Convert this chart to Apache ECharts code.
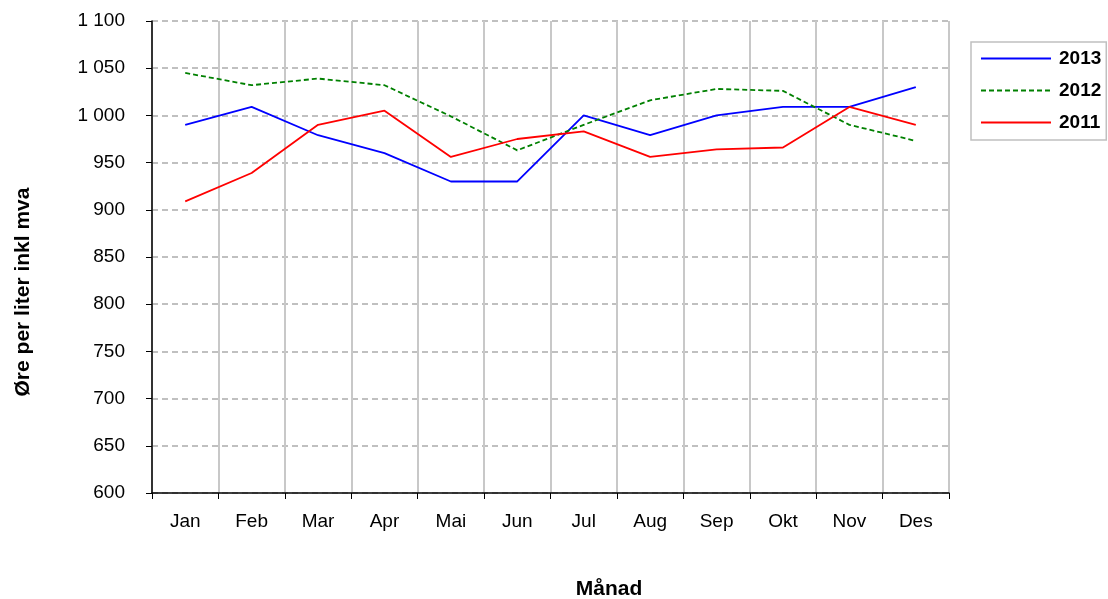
<!DOCTYPE html>
<html><head><meta charset="utf-8">
<script src="https://cdn.jsdelivr.net/npm/echarts@6/dist/echarts.min.js"></script>
<style>html,body{margin:0;padding:0;background:#fff}#c{width:1108px;height:599px}</style>
</head><body><div id="c"></div>
<script>
const months = ['Jan','Feb','Mar','Apr','Mai','Jun','Jul','Aug','Sep','Okt','Nov','Des'];
const s2013 = [990, 1009, 979, 960, 930, 930, 1000, 979, 1000, 1009, 1009, 1030];
const s2012 = [1045, 1032, 1039, 1032, 999, 963, 990, 1016, 1028, 1026, 990, 973];
const s2011 = [909, 939, 990, 1005, 956, 975, 983, 956, 964, 966, 1009, 990];
const yMin = 600, yMax = 1100, yStep = 50;
const xTitle = 'Månad';
const yTitle = 'Øre per liter inkl mva';

const chart = echarts.init(document.getElementById('c'), null, {renderer:'canvas'});
const font = 'Liberation Sans, Arial, sans-serif';
function fmt(v){ const s = String(v); return s.length > 3 ? s.slice(0, s.length-3) + ' ' + s.slice(-3) : s; }
chart.setOption({
  animation:false,
  backgroundColor:'#fff',
  textStyle:{fontFamily:font},
  grid:{left:152, right:159, top:21, bottom:106, containLabel:false},
  legend:{
    orient:'vertical', left:971, top:42,
    itemWidth:70, itemHeight:14, itemGap:13,
    padding:[7,5,8,9],
    borderColor:'#c0c0c0', borderWidth:1.5,
    itemStyle:{opacity:0},
    textStyle:{fontFamily:font, fontSize:19, fontWeight:'bold', color:'#000', padding:[0,0,0,3]},
    data:['2013','2012','2011']
  },
  graphic:[
    {type:'text', x:609, y:589, style:{text:xTitle, fontFamily:font, fontSize:21, fontWeight:'bold', fill:'#000', align:'center', verticalAlign:'middle'}},
    {type:'text', x:23, y:292, rotation:Math.PI/2, style:{text:yTitle, fontFamily:font, fontSize:21, fontWeight:'bold', fill:'#000', align:'center', verticalAlign:'middle'}}
  ],
  xAxis:{
    type:'category', data:months, boundaryGap:true,
    axisLine:{lineStyle:{color:'#000', width:1.5}},
    axisTick:{show:true, length:6, interval:0, lineStyle:{color:'#000'}},
    axisLabel:{fontFamily:font, fontSize:19, color:'#000', margin:19, interval:0},
    splitLine:{show:true, interval:0, lineStyle:{color:'#c8c8c8', width:2}}
  },
  yAxis:{
    type:'value', min:yMin, max:yMax, interval:yStep,
    axisLine:{show:true, lineStyle:{color:'#000', width:1.5}},
    axisTick:{show:true, length:6, lineStyle:{color:'#000'}},
    axisLabel:{fontFamily:font, fontSize:19, color:'#000', margin:27, formatter:fmt},
    splitLine:{show:true, lineStyle:{color:'#c0c0c0', width:2, type:[6,4]}}
  },
  series:[
    {name:'2013', type:'line', data:s2013, symbol:'none', color:'#0000ff', lineStyle:{color:'#0000ff', width:1.8}},
    {name:'2012', type:'line', data:s2012, symbol:'none', color:'#008000', lineStyle:{color:'#008000', width:1.8, type:[5,3]}},
    {name:'2011', type:'line', data:s2011, symbol:'none', color:'#ff0000', lineStyle:{color:'#ff0000', width:1.8}}
  ]
});
</script></body></html>
